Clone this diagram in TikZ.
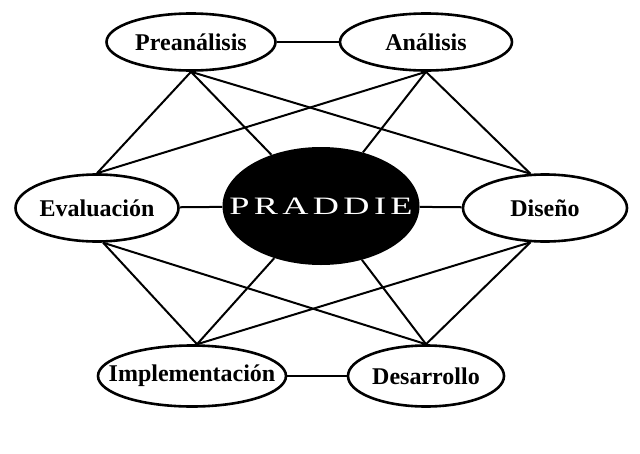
\documentclass[tikz,border=0pt]{standalone}
\usepackage{fontspec}
\setmainfont{Liberation Serif}
\usepackage{graphicx}
\usepackage{tikz}
\usetikzlibrary{shapes.geometric}

\begin{document}
\begin{tikzpicture}
        [x=1pt, y=-1pt,
         phase/.style={ellipse, draw=black, line width=2.6pt, fill=white,
                       inner xsep=-50pt, inner ysep=-12pt,
                       font=\fontsize{24}{28}\selectfont\bfseries},
         core/.style={ellipse, fill=black, inner xsep=-70pt, inner ysep=-12pt, text=white,
                      font=\fontsize{25}{30}\selectfont},
         link/.style={line width=2pt}]
        \useasboundingbox (0,0) rectangle (640,453);

        \node[phase, minimum width=169pt, minimum height=57pt] (pre) at (191,42) {Preanálisis};
        \node[phase, minimum width=172pt, minimum height=57pt] (ana) at (426,42) {Análisis};
        \node[phase, minimum width=163pt, minimum height=67pt] (eval) at (97,208) {Evaluación};
        \node[core, minimum width=197pt, minimum height=118pt] (praddie) at (321,206)
            {\scalebox{1.45}[1]{P\kern3pt R\kern3pt A\kern3pt D\kern3pt D\kern3pt I\kern3pt E}};
        \node[phase, minimum width=164pt, minimum height=67pt] (dis) at (545,208) {Diseño};
        \node[phase, minimum width=188pt, minimum height=61pt] (impl) at (192,376) {Implementación};
        \node[phase, minimum width=156pt, minimum height=61pt] (des) at (426,376) {Desarrollo};

        \path [link] (pre) edge (ana);
        \path [link] (eval) edge (praddie);
        \path [link] (praddie) edge (dis);
        \path [link] (impl) edge (des);

        \path [link] (pre.south) edge (eval.north) edge (praddie) edge (dis.113);
        \path [link] (ana.south) edge (eval.north) edge (praddie) edge (dis.113);
        \path [link] (eval.280) edge (impl.81) edge (des.north);
        \path [link] (dis.247) edge (impl.81) edge (des.north);
        \path [link] (praddie) edge (impl.81) edge (des.north);
    \end{tikzpicture}
\end{document}
